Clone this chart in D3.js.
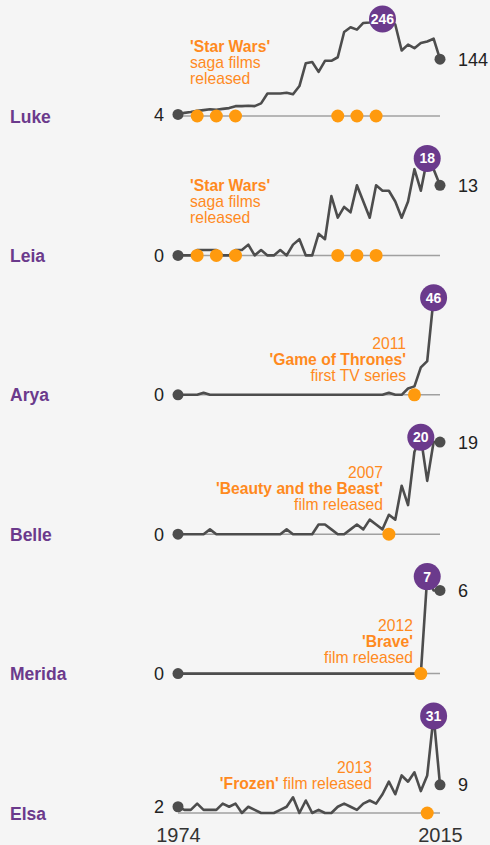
<!DOCTYPE html>
<html>
<head>
<meta charset="utf-8">
<script src="https://cdn.jsdelivr.net/npm/d3@7"></script>
<style>
  body { margin: 0; background: #f5f5f5; }
  svg { display: block; font-family: "Liberation Sans", Arial, sans-serif; }
</style>
</head>
<body>
<div id="chart"></div>
<script>
// yearly counts, 1974 .. 2015
const years = [1974, 1975, 1976, 1977, 1978, 1979, 1980, 1981, 1982, 1983,
  1984, 1985, 1986, 1987, 1988, 1989, 1990, 1991, 1992, 1993,
  1994, 1995, 1996, 1997, 1998, 1999, 2000, 2001, 2002, 2003,
  2004, 2005, 2006, 2007, 2008, 2009, 2010, 2011, 2012, 2013,
  2014, 2015];

const names = ["Luke", "Leia", "Arya", "Belle", "Merida", "Elsa"];

const lukeValues = [4, 8, 10, 13, 15, 17, 16, 18, 20, 25, 25, 26, 25, 32, 57, 57, 57, 59, 55, 76,
  134, 137, 112, 140, 140, 149, 213, 225, 219, 236, 237, 241, 246, 243, 232, 166, 181, 172, 185, 189,
  196, 144];
const leiaValues = [0, 0, 0, 1, 1, 1, 1, 0, 0, 1, 1, 2, 0, 1, 0, 0, 1, 0, 2, 3,
  0, 0, 4, 3, 11, 7, 9, 8, 13, 10, 7, 13, 12, 12, 10, 7, 10, 16, 12, 18,
  16, 13];
// Arya ends at its peak (no separate end label in the original)
const aryaValues = [0, 0, 0, 0, 1, 0, 0, 0, 0, 0, 0, 0, 0, 0, 0, 0, 0, 0, 0, 0,
  0, 0, 0, 0, 0, 0, 0, 0, 0, 0, 0, 0, 0, 1, 0, 0, 3, 4, 13, 16,
  46];
const belleValues = [0, 0, 0, 0, 0, 1, 0, 0, 0, 0, 0, 0, 0, 0, 0, 0, 0, 1, 0, 0,
  0, 0, 2, 2, 1, 0, 0, 1, 2, 1, 3, 2, 1, 4, 3, 10, 6, 17, 20, 11,
  19, 19];
const meridaValues = [0, 0, 0, 0, 0, 0, 0, 0, 0, 0, 0, 0, 0, 0, 0, 0, 0, 0, 0, 0,
  0, 0, 0, 0, 0, 0, 0, 0, 0, 0, 0, 0, 0, 0, 0, 0, 0, 0, 0, 7,
  6, 6];
const elsaValues = [2, 1, 1, 3, 1, 1, 1, 3, 2, 3, 0, 2, 1, 0, 0, 0, 1, 2, 5, 0,
  4, 0, 1, 0, 0, 2, 3, 2, 1, 3, 4, 3, 6, 10, 6, 12, 10, 13, 7, 12,
  31, 9];

// release years marked with orange dots
const starWarsYears = [1977, 1980, 1983, 1999, 2002, 2005];
const aryaEvents = [2011];
const belleEvents = [2007];
const meridaEvents = [2012];
const elsaEvents = [2013];

// annotation text, one entry per line, [text, bold] pieces
const starWarsNote = [[["'Star Wars'", true]], [["saga films", false]], [["released", false]]];
const aryaNote = [[["2011", false]], [["'Game of Thrones'", true]], [["first TV series", false]]];
const belleNote = [[["2007", false]], [["'Beauty and the Beast'", true]], [["film released", false]]];
const meridaNote = [[["2012", false]], [["'Brave'", true]], [["film released", false]]];
const elsaNote = [[["2013", false]], [["'Frozen'", true], [" film released", false]]];

const axisTicks = [1974, 2015];

(function(){
  "use strict";

  const width = 490;
  const height = 845;

  const purple = "#6b3a8c";
  const orange = "#ff9a0e";     // dots
  const orangeText = "#ff8a1e"; // annotations
  const lineGrey = "#4d4d4d";

  // one panel per name
  const panels = [
    {name: "Luke", values: lukeValues, events: starWarsYears, note: starWarsNote},
    {name: "Leia", values: leiaValues, events: starWarsYears, note: starWarsNote},
    {name: "Arya", values: aryaValues, events: aryaEvents, note: aryaNote},
    {name: "Belle", values: belleValues, events: belleEvents, note: belleNote},
    {name: "Merida", values: meridaValues, events: meridaEvents, note: meridaNote},
    {name: "Elsa", values: elsaValues, events: elsaEvents, note: elsaNote}
  ];

  // where each annotation sits (x, anchor, first baseline offset)
  const noteLayout = {
    Luke:   {x: 190, anchor: "start", top: -64},
    Leia:   {x: 190, anchor: "start", top: -64},
    Arya:   {x: 406, anchor: "end", top: -46},
    Belle:  {x: 383, anchor: "end", top: -56},
    Merida: {x: 413, anchor: "end", top: -43},
    Elsa:   {x: 372, anchor: "end", top: -40}
  };
  const noteLineHeight = 16;
  const panelHeight = 97;

  const x = d3.scaleLinear().domain([1974, 2015]).range([178, 440]);
  const rowY = d3.scalePoint().domain(names).range([116, 813]);

  const svg = d3.select("#chart")
    .append("svg")
    .attr("width", width)
    .attr("height", height);

  svg.append("rect")
    .attr("width", width)
    .attr("height", height)
    .attr("fill", "#f5f5f5");

  panels.forEach((p) => {
    const g = svg.append("g")
      .attr("transform", `translate(0,${rowY(p.name)})`);

    const max = d3.max(p.values);
    const maxIdx = p.values.indexOf(max);
    const last = p.values.length - 1;

    // each panel has its own vertical scale
    const y = d3.scaleLinear().domain([0, max]).range([0, -panelHeight]);

    // name on the left
    g.append("text")
      .attr("x", 10)
      .attr("y", 0)
      .attr("dy", "0.38em")
      .attr("fill", purple)
      .attr("font-size", 17.5)
      .attr("font-weight", "bold")
      .text(p.name);

    // grey baseline
    g.append("line")
      .attr("x1", x(1974))
      .attr("x2", x(2015))
      .attr("y1", 0)
      .attr("y2", 0)
      .attr("stroke", "#a0a0a0")
      .attr("stroke-width", 1.5);

    // annotation
    const lay = noteLayout[p.name];
    const note = g.append("text")
      .attr("text-anchor", lay.anchor)
      .attr("fill", orangeText)
      .attr("font-size", 15.7);
    p.note.forEach((line, i) => {
      line.forEach((piece, j) => {
        const t = note.append("tspan")
          .attr("font-weight", piece[1] ? "bold" : "normal")
          .text(piece[0]);
        if (j === 0) {
          t.attr("x", lay.x).attr("y", lay.top + i * noteLineHeight);
        }
      });
    });

    // the series line
    const line = d3.line()
      .x((d, i) => x(years[i]))
      .y((d) => y(d));

    g.append("path")
      .datum(p.values)
      .attr("fill", "none")
      .attr("stroke", lineGrey)
      .attr("stroke-width", 2.6)
      .attr("stroke-linejoin", "round")
      .attr("d", line);

    // event dots
    g.selectAll(".event")
      .data(p.events)
      .enter().append("circle")
        .attr("class", "event")
        .attr("cx", (d) => x(d))
        .attr("cy", 0)
        .attr("r", 6.5)
        .attr("fill", orange);

    // start dot and value
    g.append("circle")
      .attr("cx", x(years[0]))
      .attr("cy", y(p.values[0]))
      .attr("r", 5.5)
      .attr("fill", lineGrey);
    g.append("text")
      .attr("x", x(years[0]) - 14)
      .attr("y", y(p.values[0]))
      .attr("dy", "0.36em")
      .attr("text-anchor", "end")
      .attr("font-size", 18)
      .attr("fill", "#222")
      .text(p.values[0]);

    // end dot and value, unless the end is the peak
    if (last !== maxIdx) {
      g.append("circle")
        .attr("cx", x(years[last]))
        .attr("cy", y(p.values[last]))
        .attr("r", 5.5)
        .attr("fill", lineGrey);
      g.append("text")
        .attr("x", x(years[last]) + 18)
        .attr("y", y(p.values[last]))
        .attr("dy", "0.36em")
        .attr("font-size", 18)
        .attr("fill", "#222")
        .text(p.values[last]);
    }

    // peak marker
    g.append("circle")
      .attr("cx", x(years[maxIdx]))
      .attr("cy", y(max))
      .attr("r", 13.5)
      .attr("fill", purple);
    g.append("text")
      .attr("x", x(years[maxIdx]))
      .attr("y", y(max))
      .attr("dy", "0.36em")
      .attr("text-anchor", "middle")
      .attr("font-size", 14)
      .attr("font-weight", "bold")
      .attr("fill", "#fff")
      .text(max);
  });

  // year labels at the bottom
  const axis = d3.axisBottom(x)
    .tickValues(axisTicks)
    .tickSize(0)
    .tickPadding(0)
    .tickFormat(d3.format("d"));

  const ax = svg.append("g")
    .attr("transform", "translate(0,828)")
    .call(axis);
  ax.select(".domain").remove();
  ax.selectAll("text")
    .attr("dy", "0.72em")
    .attr("font-size", 20)
    .attr("font-family", "\"Liberation Sans\", Arial, sans-serif")
    .attr("fill", "#333");
})();
</script>
</body>
</html>
